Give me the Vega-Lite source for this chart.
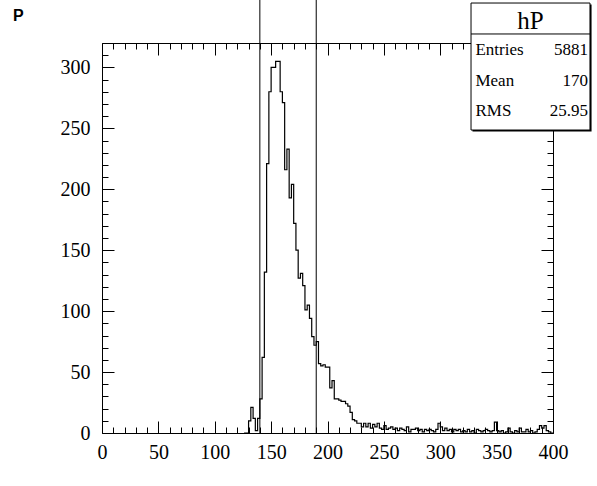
{
  "$schema": "https://vega.github.io/schema/vega-lite/v6.json",
  "width": 451,
  "height": 390,
  "autosize": {"type": "none"},
  "padding": {"left": 102, "top": 43, "right": 44, "bottom": 53},
  "background": "white",
  "view": {"stroke": "black", "strokeWidth": 1},
  "datasets": {
    "hist": [
      {"x":126,"n":0},{"x":128,"n":0},{"x":130,"n":10},{"x":132,"n":21},{"x":134,"n":12},{"x":136,"n":2},{"x":138,"n":12},
      {"x":140,"n":28},{"x":142,"n":62},{"x":144,"n":132},{"x":146,"n":221},{"x":148,"n":280},{"x":150,"n":300},{"x":152,"n":300},
      {"x":154,"n":305},{"x":156,"n":305},{"x":158,"n":280},{"x":160,"n":271},{"x":162,"n":216},{"x":164,"n":233},{"x":166,"n":193},
      {"x":168,"n":204},{"x":170,"n":172},{"x":172,"n":150},{"x":174,"n":127},{"x":176,"n":131},{"x":178,"n":121},{"x":180,"n":101},
      {"x":182,"n":105},{"x":184,"n":94},{"x":186,"n":79},{"x":188,"n":72},{"x":190,"n":75},{"x":192,"n":57},{"x":194,"n":55},
      {"x":196,"n":56},{"x":198,"n":54},{"x":200,"n":54},{"x":202,"n":37},{"x":204,"n":43},{"x":206,"n":28},{"x":208,"n":28},
      {"x":210,"n":27},{"x":212,"n":26},{"x":214,"n":26},{"x":216,"n":24},{"x":218,"n":22},{"x":220,"n":17},{"x":222,"n":11},
      {"x":224,"n":10},{"x":226,"n":8},{"x":228,"n":8},{"x":230,"n":5},{"x":232,"n":8},{"x":234,"n":5},{"x":236,"n":8},
      {"x":238,"n":4},{"x":240,"n":7},{"x":242,"n":5},{"x":244,"n":8},{"x":246,"n":4},{"x":248,"n":3},{"x":250,"n":6},
      {"x":252,"n":3},{"x":254,"n":4},{"x":256,"n":5},{"x":258,"n":3},{"x":260,"n":4},{"x":262,"n":2},{"x":264,"n":4},
      {"x":266,"n":3},{"x":268,"n":2},{"x":270,"n":5},{"x":272,"n":1},{"x":274,"n":3},{"x":276,"n":3},{"x":278,"n":4},
      {"x":280,"n":2},{"x":282,"n":3},{"x":284,"n":1},{"x":286,"n":3},{"x":288,"n":2},{"x":290,"n":3},{"x":292,"n":2},
      {"x":294,"n":1},{"x":296,"n":3},{"x":298,"n":8},{"x":300,"n":5},{"x":302,"n":2},{"x":304,"n":4},{"x":306,"n":2},
      {"x":308,"n":3},{"x":310,"n":1},{"x":312,"n":3},{"x":314,"n":2},{"x":316,"n":3},{"x":318,"n":1},{"x":320,"n":2},
      {"x":322,"n":1},{"x":324,"n":3},{"x":326,"n":1},{"x":328,"n":2},{"x":330,"n":0},{"x":332,"n":3},{"x":334,"n":2},
      {"x":336,"n":1},{"x":338,"n":2},{"x":340,"n":3},{"x":342,"n":2},{"x":344,"n":1},{"x":346,"n":2},{"x":348,"n":9},
      {"x":350,"n":2},{"x":352,"n":1},{"x":354,"n":2},{"x":356,"n":0},{"x":358,"n":1},{"x":360,"n":4},{"x":362,"n":1},
      {"x":364,"n":0},{"x":366,"n":2},{"x":368,"n":1},{"x":370,"n":4},{"x":372,"n":1},{"x":374,"n":1},{"x":376,"n":3},
      {"x":378,"n":1},{"x":380,"n":2},{"x":382,"n":0},{"x":384,"n":1},{"x":386,"n":3},{"x":388,"n":6},{"x":390,"n":4},
      {"x":392,"n":6},{"x":394,"n":2},{"x":396,"n":1},{"x":398,"n":0},{"x":400,"n":0}
    ],
    "cuts": [{"cut": 140}, {"cut": 190}],
    "stats": [
      {"stat": "Entries", "value": "5881"},
      {"stat": "Mean", "value": "170"},
      {"stat": "RMS", "value": "25.95"}
    ],
    "name": [{"name": "hP"}],
    "ptitle": [{"title": "P"}],
    "one": [{}]
  },
  "resolve": {"axis": {"x": "independent", "y": "independent"}},
  "layer": [
    {
      "data": {"name": "hist"},
      "mark": {"type": "line", "interpolate": "step-after", "color": "black", "strokeWidth": 1.2},
      "encoding": {
        "x": {"field": "x", "type": "quantitative",
          "scale": {"domain": [0, 400], "nice": false, "zero": false},
          "axis": {"orient": "bottom", "values": [0,50,100,150,200,250,300,350,400], "ticks": false, "domain": false, "grid": false,
            "labelFont": "Liberation Serif", "labelFontSize": 20, "labelColor": "black", "labelPadding": 9, "labelFlush": false, "labelOverlap": false, "title": null}},
        "y": {"field": "n", "type": "quantitative",
          "scale": {"domain": [0, 320], "nice": false, "zero": false},
          "axis": {"orient": "left", "values": [0,50,100,150,200,250,300], "ticks": false, "domain": false, "grid": false,
            "labelFont": "Liberation Serif", "labelFontSize": 20, "labelColor": "black", "labelPadding": 12, "labelFlush": false, "labelOverlap": false, "title": null}}
      }
    },
    {
      "data": {"name": "cuts"},
      "mark": {"type": "rule", "color": "black", "strokeWidth": 1, "clip": false},
      "encoding": {
        "x": {"field": "cut", "type": "quantitative",
          "axis": {"orient": "bottom", "values": [0,10,20,30,40,50,60,70,80,90,100,110,120,130,140,150,160,170,180,190,200,210,220,230,240,250,260,270,280,290,300,310,320,330,340,350,360,370,380,390,400],
            "labels": false, "domain": false, "grid": false, "tickColor": "black", "tickWidth": 1,
            "tickSize": {"condition": {"test": "datum.value % 50 === 0", "value": -12}, "value": -6}, "title": null}},
        "y": {"datum": 0,
          "axis": {"orient": "left", "values": [0,10,20,30,40,50,60,70,80,90,100,110,120,130,140,150,160,170,180,190,200,210,220,230,240,250,260,270,280,290,300,310,320],
            "labels": false, "domain": false, "grid": false, "tickColor": "black", "tickWidth": 1,
            "tickSize": {"condition": {"test": "datum.value % 50 === 0", "value": -12}, "value": -6}, "title": null}},
        "y2": {"datum": 360}
      }
    },
    {
      "data": {"name": "one"},
      "mark": {"type": "rect", "fill": "black", "clip": false},
      "encoding": {
        "x": {"datum": 328.6,
          "axis": {"orient": "top", "values": [0,10,20,30,40,50,60,70,80,90,100,110,120,130,140,150,160,170,180,190,200,210,220,230,240,250,260,270,280,290,300,310,320,330,340,350,360,370,380,390,400],
            "labels": false, "domain": false, "grid": false, "tickColor": "black", "tickWidth": 1,
            "tickSize": {"condition": {"test": "datum.value % 50 === 0", "value": -12}, "value": -6}, "title": null}},
        "x2": {"datum": 434.2},
        "y": {"datum": 247.4,
          "axis": {"orient": "right", "values": [0,10,20,30,40,50,60,70,80,90,100,110,120,130,140,150,160,170,180,190,200,210,220,230,240,250,260,270,280,290,300,310,320],
            "labels": false, "domain": false, "grid": false, "tickColor": "black", "tickWidth": 1,
            "tickSize": {"condition": {"test": "datum.value % 50 === 0", "value": -12}, "value": -6}, "title": null}},
        "y2": {"datum": 351.6}
      }
    },
    {
      "data": {"name": "one"},
      "mark": {"type": "rect", "fill": "white", "stroke": "black", "strokeWidth": 1, "clip": false},
      "encoding": {
        "x": {"datum": 327.3, "axis": null},
        "x2": {"datum": 432.8},
        "y": {"datum": 248.6, "axis": null},
        "y2": {"datum": 352.8}
      }
    },
    {
      "data": {"name": "one"},
      "mark": {"type": "rule", "color": "black", "strokeWidth": 1, "clip": false},
      "encoding": {
        "x": {"datum": 327.3, "axis": null},
        "x2": {"datum": 432.8},
        "y": {"datum": 327.4, "axis": null}
      }
    },
    {
      "data": {"name": "ptitle"},
      "mark": {"type": "text", "font": "Liberation Sans", "fontWeight": "bold", "fontSize": 16, "color": "black", "align": "left", "baseline": "middle", "clip": false},
      "encoding": {
        "x": {"datum": -79, "axis": null},
        "y": {"datum": 342, "axis": null},
        "text": {"field": "title"}
      }
    },
    {
      "data": {"name": "name"},
      "mark": {"type": "text", "font": "Liberation Serif", "fontSize": 25, "color": "black", "align": "center", "baseline": "alphabetic", "clip": false},
      "encoding": {
        "x": {"datum": 380, "axis": null},
        "y": {"datum": 331.5, "axis": null},
        "text": {"field": "name"}
      }
    },
    {
      "data": {"name": "stats"},
      "transform": [{"filter": "datum.stat === 'Entries'"}],
      "layer": [
        {"mark": {"type": "text", "font": "Liberation Serif", "fontSize": 17, "color": "black", "align": "left", "baseline": "middle", "clip": false},
         "encoding": {"x": {"datum": 331.2, "axis": null}, "y": {"datum": 314.2, "axis": null}, "text": {"field": "stat"}}},
        {"mark": {"type": "text", "font": "Liberation Serif", "fontSize": 17, "color": "black", "align": "right", "baseline": "middle", "clip": false},
         "encoding": {"x": {"datum": 431, "axis": null}, "y": {"datum": 314.2, "axis": null}, "text": {"field": "value"}}}
      ]
    },
    {
      "data": {"name": "stats"},
      "transform": [{"filter": "datum.stat === 'Mean'"}],
      "layer": [
        {"mark": {"type": "text", "font": "Liberation Serif", "fontSize": 17, "color": "black", "align": "left", "baseline": "middle", "clip": false},
         "encoding": {"x": {"datum": 331.2, "axis": null}, "y": {"datum": 289.2, "axis": null}, "text": {"field": "stat"}}},
        {"mark": {"type": "text", "font": "Liberation Serif", "fontSize": 17, "color": "black", "align": "right", "baseline": "middle", "clip": false},
         "encoding": {"x": {"datum": 431, "axis": null}, "y": {"datum": 289.2, "axis": null}, "text": {"field": "value"}}}
      ]
    },
    {
      "data": {"name": "stats"},
      "transform": [{"filter": "datum.stat === 'RMS'"}],
      "layer": [
        {"mark": {"type": "text", "font": "Liberation Serif", "fontSize": 17, "color": "black", "align": "left", "baseline": "middle", "clip": false},
         "encoding": {"x": {"datum": 331.2, "axis": null}, "y": {"datum": 264.2, "axis": null}, "text": {"field": "stat"}}},
        {"mark": {"type": "text", "font": "Liberation Serif", "fontSize": 17, "color": "black", "align": "right", "baseline": "middle", "clip": false},
         "encoding": {"x": {"datum": 431, "axis": null}, "y": {"datum": 264.2, "axis": null}, "text": {"field": "value"}}}
      ]
    }
  ]
}
